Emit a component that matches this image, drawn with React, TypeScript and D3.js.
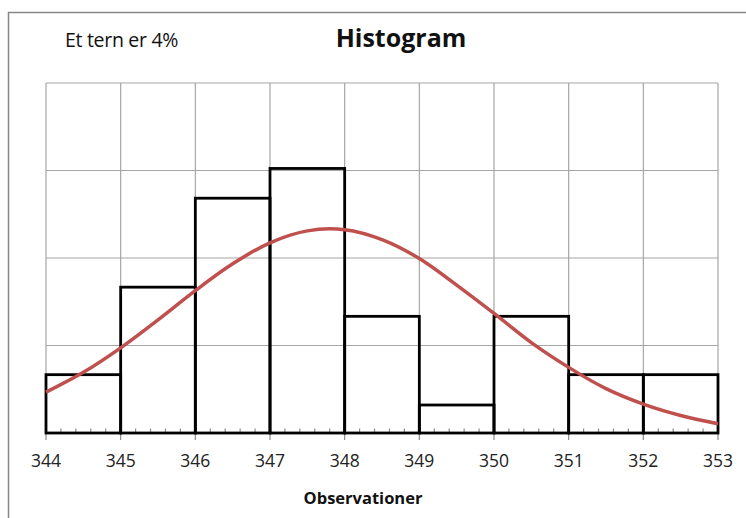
import React from "react";
import * as d3 from "d3";

const binStarts = [344, 345, 346, 347, 348, 349, 350, 351, 352];
const counts = [2, 5, 8.05, 9.07, 4, 0.96, 4, 2, 2];
const xTicks = [344, 345, 346, 347, 348, 349, 350, 351, 352, 353];
const yGrid = [0, 3, 6, 9, 12];
const curveX = [344, 344.5, 345, 345.5, 346, 346.5, 347, 347.5, 347.8, 348, 348.5, 349, 349.5, 350, 350.5, 351, 351.5, 352, 352.5, 353];
const curveY = [1.4, 2.08, 2.92, 3.88, 4.88, 5.8, 6.52, 6.93, 7.0, 6.97, 6.63, 5.98, 5.07, 4.1, 3.1, 2.25, 1.52, 0.99, 0.6, 0.32];
const titleText = "Histogram";
const noteText = "Et tern er 4%";
const xLabel = "Observationer";

const W = 746;
const H = 518;
const L = 46, R = 718, T = 83, B = 433;

export default function App() {
  const x = d3.scaleLinear().domain([344, 353]).range([L, R]);
  const y = d3.scaleLinear().domain([0, 12]).range([B, T]);
  const minor = d3.range(344, 353.001, 0.2).filter((v) => Math.abs(v - Math.round(v)) > 0.01);
  const line = d3
    .line<number>()
    .x((_, i) => x(curveX[i]))
    .y((d) => y(d))
    .curve(d3.curveMonotoneX);
  const font = "'Open Sans', sans-serif";
  return (
    <svg width={W} height={H} style={{ position: "absolute", left: 0, top: 0, background: "#fff" }}>
      <rect x={8.5} y={12.5} width={W + 10} height={H + 10} fill="#fff" stroke="#868686" strokeWidth={1.5} />
      {yGrid.map((v) => (
        <line key={"h" + v} x1={L} x2={R} y1={y(v)} y2={y(v)} stroke="#a6a6a6" strokeWidth={1.2} />
      ))}
      {xTicks.map((v) => (
        <line key={"v" + v} x1={x(v)} x2={x(v)} y1={T} y2={B} stroke="#a6a6a6" strokeWidth={1.2} />
      ))}
      {xTicks.map((v) => (
        <line key={"t" + v} x1={x(v)} x2={x(v)} y1={B} y2={B + 7} stroke="#8c8c8c" strokeWidth={1.2} />
      ))}
      {minor.map((v, i) => (
        <line key={"m" + i} x1={x(v)} x2={x(v)} y1={B - 4.5} y2={B} stroke="#8c8c8c" strokeWidth={1.2} />
      ))}
      <line x1={L} x2={R} y1={B} y2={B} stroke="#8c8c8c" strokeWidth={1.2} />
      {binStarts.map((s, i) => (
        <rect
          key={"b" + s}
          x={x(s)}
          y={y(counts[i])}
          width={x(s + 1) - x(s)}
          height={y(0) - y(counts[i])}
          fill="none"
          stroke="#000"
          strokeWidth={2.8}
        />
      ))}
      <path d={line(curveY) || ""} fill="none" stroke="#c0504d" strokeWidth={3.5} />
      {xTicks.map((v) => (
        <text key={"l" + v} x={x(v)} y={467} textAnchor="middle" fontFamily={font} fontSize={17.5} fill="#222">
          {v}
        </text>
      ))}
      <text x={401} y={46.5} textAnchor="middle" fontFamily={font} fontWeight="bold" fontSize={25} fill="#111">
        {titleText}
      </text>
      <text x={65} y={46.5} fontFamily={font} fontSize={19.5} fill="#111" letterSpacing={-0.3}>
        {noteText}
      </text>
      <text x={363} y={504} textAnchor="middle" fontFamily={font} fontWeight="bold" fontSize={16.5} fill="#111">
        {xLabel}
      </text>
    </svg>
  );
}
